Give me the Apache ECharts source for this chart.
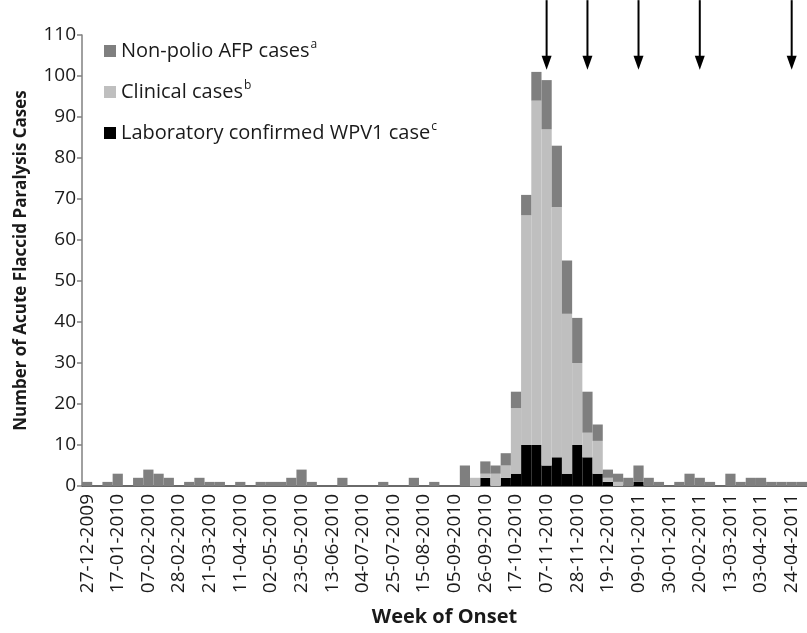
<!DOCTYPE html>
<html>
<head>
<meta charset="utf-8">
<script src="https://cdn.jsdelivr.net/npm/echarts@6/dist/echarts.min.js"></script>
<style>
  html, body { margin: 0; padding: 0; background: #fff; }
  #chart { width: 807px; height: 633px; }
</style>
</head>
<body>
<div id="chart"></div>
<script>
// weeks of onset (Sunday of each week)
var weeks = [
    '27-12-2009', '03-01-2010', '10-01-2010', '17-01-2010', '24-01-2010', '31-01-2010',
    '07-02-2010', '14-02-2010', '21-02-2010', '28-02-2010', '07-03-2010', '14-03-2010',
    '21-03-2010', '28-03-2010', '04-04-2010', '11-04-2010', '18-04-2010', '25-04-2010',
    '02-05-2010', '09-05-2010', '16-05-2010', '23-05-2010', '30-05-2010', '06-06-2010',
    '13-06-2010', '20-06-2010', '27-06-2010', '04-07-2010', '11-07-2010', '18-07-2010',
    '25-07-2010', '01-08-2010', '08-08-2010', '15-08-2010', '22-08-2010', '29-08-2010',
    '05-09-2010', '12-09-2010', '19-09-2010', '26-09-2010', '03-10-2010', '10-10-2010',
    '17-10-2010', '24-10-2010', '31-10-2010', '07-11-2010', '14-11-2010', '21-11-2010',
    '28-11-2010', '05-12-2010', '12-12-2010', '19-12-2010', '26-12-2010', '02-01-2011',
    '09-01-2011', '16-01-2011', '23-01-2011', '30-01-2011', '06-02-2011', '13-02-2011',
    '20-02-2011', '27-02-2011', '06-03-2011', '13-03-2011', '20-03-2011', '27-03-2011',
    '03-04-2011', '10-04-2011', '17-04-2011', '24-04-2011', '01-05-2011'
];

// laboratory confirmed WPV1 cases
var labCases = [
    0, 0, 0, 0, 0, 0, 0, 0, 0, 0, 0, 0,
    0, 0, 0, 0, 0, 0, 0, 0, 0, 0, 0, 0,
    0, 0, 0, 0, 0, 0, 0, 0, 0, 0, 0, 0,
    0, 0, 0, 2, 0, 2, 3, 10, 10, 5, 7, 3,
    10, 7, 3, 1, 0, 0, 1, 0, 0, 0, 0, 0,
    0, 0, 0, 0, 0, 0, 0, 0, 0, 0, 0
];

// clinical cases
var clinicalCases = [
    0, 0, 0, 0, 0, 0, 0, 0, 0, 0, 0, 0,
    0, 0, 0, 0, 0, 0, 0, 0, 0, 0, 0, 0,
    0, 0, 0, 0, 0, 0, 0, 0, 0, 0, 0, 0,
    0, 0, 2, 1, 3, 3, 16, 56, 84, 82, 61, 39,
    20, 6, 8, 1, 1, 0, 0, 0, 0, 0, 0, 0,
    0, 0, 0, 0, 0, 0, 0, 0, 0, 0, 0
];

// non-polio AFP cases
var nonPolioCases = [
    1, 0, 1, 3, 0, 2, 4, 3, 2, 0, 1, 2,
    1, 1, 0, 1, 0, 1, 1, 1, 2, 4, 1, 0,
    0, 2, 0, 0, 0, 1, 0, 0, 2, 0, 1, 0,
    0, 5, 0, 3, 2, 3, 4, 5, 7, 12, 15, 13,
    11, 10, 4, 2, 2, 2, 4, 2, 1, 0, 1, 3,
    2, 1, 0, 3, 1, 2, 2, 1, 1, 1, 1
];

// weeks marked with arrows above the plot
var arrowWeeks = ['07-11-2010', '05-12-2010', '09-01-2011', '20-02-2011', '24-04-2011'];

var yTicks = { min: 0, max: 110, interval: 10 };

var names = {
    np: 'Non-polio AFP cases',
    clin: 'Clinical cases',
    lab: 'Laboratory confirmed WPV1 case'
};
var sup = {};
sup[names.np] = 'a';
sup[names.clin] = 'b';
sup[names.lab] = 'c';

var font = 'Open Sans';
var chart = echarts.init(document.getElementById('chart'));

function barSeries(name, data, color) {
    return {
        name: name,
        type: 'bar',
        stack: 'cases',
        data: data,
        barCategoryGap: 0,
        barGap: 0,
        itemStyle: { color: color },
        emphasis: { disabled: true }
    };
}

var option = {
    animation: false,
    textStyle: { fontFamily: font },
    grid: { left: 82, right: 0, top: 35, bottom: 147 },
    legend: {
        orient: 'vertical',
        left: 99,
        top: 34,
        itemWidth: 12,
        itemHeight: 12,
        itemGap: 17,
        icon: 'rect',
        data: [names.np, names.clin, names.lab],
        formatter: function (name) {
            return name + '{s|' + sup[name] + '}';
        },
        textStyle: {
            fontFamily: font,
            fontSize: 20,
            color: '#1a1a1a',
            lineHeight: 24,
            rich: {
                s: { fontSize: 12, lineHeight: 24, verticalAlign: 'top', padding: [0, 0, 0, 1], color: '#1a1a1a' }
            }
        }
    },
    xAxis: {
        type: 'category',
        data: weeks,
        name: 'Week of Onset',
        nameLocation: 'middle',
        nameGap: 121,
        nameTextStyle: { fontFamily: font, fontSize: 20, fontWeight: 'bold', color: '#1a1a1a' },
        axisLine: { lineStyle: { color: '#3a3a3a', width: 1.5 } },
        axisTick: { interval: 0, length: 6, lineStyle: { color: '#3a3a3a', width: 1.5 } },
        axisLabel: {
            interval: 2,
            rotate: 90,
            fontSize: 19,
            color: '#1a1a1a',
            margin: 8
        }
    },
    yAxis: {
        type: 'value',
        min: yTicks.min,
        max: yTicks.max,
        interval: yTicks.interval,
        name: 'Number of Acute Flaccid Paralysis Cases',
        nameLocation: 'middle',
        nameGap: 52,
        nameTextStyle: { fontFamily: font, fontSize: 17, fontWeight: 'bold', color: '#1a1a1a' },
        axisLine: { show: true, lineStyle: { color: '#808080', width: 1.5 } },
        axisTick: { show: true, length: 5, lineStyle: { color: '#808080', width: 1.5 } },
        axisLabel: { fontSize: 19, color: '#1a1a1a', margin: 6 },
        splitLine: { show: false }
    },
    series: [
        barSeries(names.lab, labCases, '#000000'),
        barSeries(names.clin, clinicalCases, '#bfbfbf'),
        barSeries(names.np, nonPolioCases, '#7f7f7f')
    ]
};

chart.setOption(option);

// arrows above the epidemic curve
var arrows = arrowWeeks.map(function (w) {
    var x = chart.convertToPixel({ xAxisIndex: 0 }, w);
    var yTop = chart.convertToPixel({ yAxisIndex: 0 }, 118.5);
    var yTip = chart.convertToPixel({ yAxisIndex: 0 }, 101.5);
    return {
        type: 'group',
        children: [
            {
                type: 'line',
                shape: { x1: x, y1: yTop, x2: x, y2: yTip - 10 },
                style: { stroke: '#000', lineWidth: 2 }
            },
            {
                type: 'polygon',
                shape: { points: [[x - 5, yTip - 14], [x + 5, yTip - 14], [x, yTip]] },
                style: { fill: '#000' }
            }
        ]
    };
});
chart.setOption({ graphic: arrows });
</script>
</body>
</html>
